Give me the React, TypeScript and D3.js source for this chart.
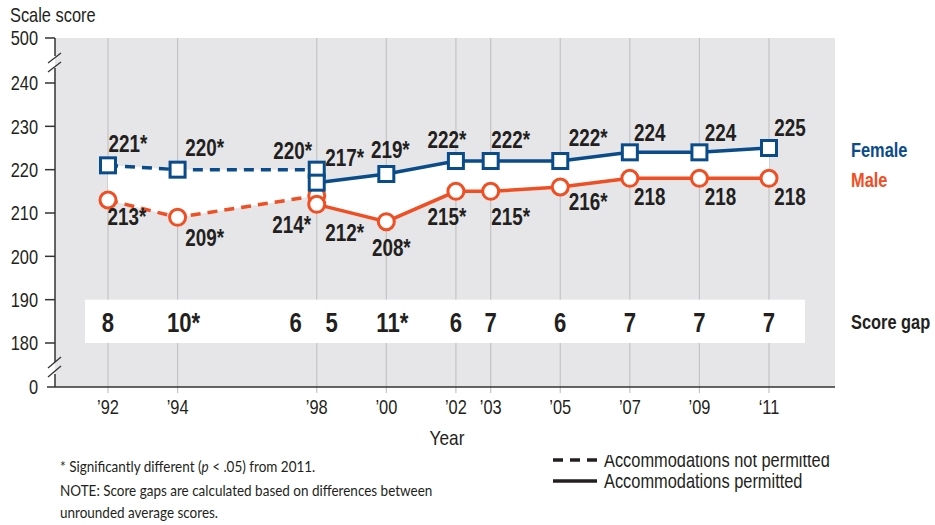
import React from "react";
import * as d3 from "d3";

const years = [1992, 1994, 1998, 2000, 2002, 2003, 2005, 2007, 2009, 2011];
const yearLabels = ["’92", "’94", "’98", "’00", "’02", "’03", "’05", "’07", "’09", "‘11"];

// Accommodations not permitted
const dashedYears = [1992, 1994, 1998];
const femaleDashed = [221, 220, 220];
const maleDashed = [213, 209, 214];
const femaleDashedLabels = ["221*", "220*", "220*"];
const maleDashedLabels = ["213*", "209*", "214*"];

// Accommodations permitted
const solidYears = [1998, 2000, 2002, 2003, 2005, 2007, 2009, 2011];
const femaleSolid = [217, 219, 222, 222, 222, 224, 224, 225];
const maleSolid = [212, 208, 215, 215, 216, 218, 218, 218];
const femaleSolidLabels = ["217*", "219*", "222*", "222*", "222*", "224", "224", "225"];
const maleSolidLabels = ["212*", "208*", "215*", "215*", "216*", "218", "218", "218"];

// Score gaps
const gapYears = [1992, 1994, 1998, 1998, 2000, 2002, 2003, 2005, 2007, 2009, 2011];
const gapLabels = ["8", "10*", "6", "5", "11*", "6", "7", "6", "7", "7", "7"];

const yTicks = [0, 180, 190, 200, 210, 220, 230, 240, 500];

// label offsets (layout only)
const fDashDx = [20, 27, -24];
const fDashDy = [-13, -14, -11];
const mDashDx = [19, 27, -25];
const mDashDy = [25, 29, 37];
const fSolidDx = [28, 4, -9, 20, 28, 20, 21, 21];
const fSolidDy = [-17, -16, -13, -13, -15, -11, -11, -12];
const mSolidDx = [28, 5, -9, 20, 28, 20, 21, 21];
const mSolidDy = [37, 34, 34, 34, 23, 27, 27, 27];
const gapDx = [0, 6, -21, 15, 6, 0, 0, 0, 0, 0, 0];

const BLUE = "#0a4b8a";
const ORANGE = "#f04e23";
const TEXT = "#231f20";
const SANS = "'Liberation Sans', Arial, sans-serif";
const NOTEFONT = "Lato, 'Open Sans', sans-serif";

type NTProps = {
  x: number; y: number; anchor?: "start" | "middle" | "end"; size: number; weight?: number;
  fill?: string; sx?: number; family?: string; dy?: string; clip?: string; children: React.ReactNode;
};
function NText({ x, y, anchor = "start", size, weight = 400, fill = TEXT, sx = 0.82, family = SANS, dy, clip, children }: NTProps) {
  return (
    <g transform={`translate(${x},${y}) scale(${sx},1)`} clipPath={clip}>
      <text x={0} y={0} dy={dy} textAnchor={anchor} style={{ fontFamily: family, fontSize: size, fontWeight: weight, fill }}>
        {children}
      </text>
    </g>
  );
}

export default function App() {
  const x = d3.scaleLinear().domain([1992, 2011]).range([108, 769]);
  const y = d3.scaleLinear().domain([0, 180, 240, 500]).range([387, 343, 83, 38]);

  const plotL = 55, plotR = 835, plotT = y(500), plotB = y(0);

  const line = d3.line<[number, number]>().x(d => x(d[0])).y(d => y(d[1]));
  const area = d3.area<[number, number, number]>().x(d => x(d[0])).y0(d => y(d[2])).y1(d => y(d[1]));

  const fD = dashedYears.map((yr, i) => [yr, femaleDashed[i]] as [number, number]);
  const mD = dashedYears.map((yr, i) => [yr, maleDashed[i]] as [number, number]);
  const fS = solidYears.map((yr, i) => [yr, femaleSolid[i]] as [number, number]);
  const mS = solidYears.map((yr, i) => [yr, maleSolid[i]] as [number, number]);
  const aD = dashedYears.map((yr, i) => [yr, femaleDashed[i], maleDashed[i]] as [number, number, number]);
  const aS = solidYears.map((yr, i) => [yr, femaleSolid[i], maleSolid[i]] as [number, number, number]);

  const sq = 15;

  const square = (yr: number, v: number, k: string) => (
    <rect key={k} x={x(yr) - sq / 2} y={y(v) - sq / 2} width={sq} height={sq} fill="#fff" stroke={BLUE} strokeWidth={3} />
  );
  const circle = (yr: number, v: number, k: string) => (
    <circle key={k} cx={x(yr)} cy={y(v)} r={8} fill="#fff" stroke={ORANGE} strokeWidth={3} />
  );
  const lbl = (k: string, px: number, py: number, s: string) => (
    <NText key={k} x={px} y={py} anchor="middle" size={23} weight={700}>{s}</NText>
  );

  return (
    <svg width={935} height={525} style={{ position: "absolute", left: 0, top: 0 }}>
      <defs>
        <clipPath id="legclip">
          <rect x={-10} y={-12} width={400} height={30} />
        </clipPath>
      </defs>
      <rect x={0} y={0} width={935} height={525} fill="#fff" />
      {/* plot background */}
      <rect x={plotL} y={plotT} width={plotR - plotL} height={plotB - plotT} fill="#e6e6e8" />
      {/* vertical grid lines / ticks */}
      {years.map(yr => (
        <line key={"g" + yr} x1={x(yr)} x2={x(yr)} y1={plotT} y2={plotB + 6} stroke="#c4c4c6" strokeWidth={1.2} />
      ))}
      {/* score gap band */}
      <rect x={x(1992) - 23} y={y(190)} width={x(2011) + 36 - (x(1992) - 23)} height={y(180) - y(190)} fill="#fff" />
      {/* white area between lines */}
      <path d={area(aD) || ""} fill="#fff" />
      <path d={area(aS) || ""} fill="#fff" />

      {/* axes */}
      <line x1={plotL} x2={plotL} y1={plotT} y2={56} stroke="#333" strokeWidth={1.5} />
      <line x1={plotL} x2={plotL} y1={68} y2={362} stroke="#333" strokeWidth={1.5} />
      <line x1={plotL} x2={plotL} y1={374} y2={plotB} stroke="#333" strokeWidth={1.5} />
      <line x1={47} x2={plotR} y1={plotB} y2={plotB} stroke="#333" strokeWidth={1.5} />
      {/* axis breaks */}
      <line x1={48} y1={63} x2={61} y2={53} stroke="#333" strokeWidth={1.3} />
      <line x1={48} y1={72} x2={61} y2={62} stroke="#333" strokeWidth={1.3} />
      <line x1={48} y1={368} x2={61} y2={357} stroke="#333" strokeWidth={1.3} />
      <line x1={48} y1={377} x2={61} y2={366} stroke="#333" strokeWidth={1.3} />
      {yTicks.map(t => (
        <g key={"yt" + t}>
          {t !== 0 && <line x1={45} x2={plotL} y1={y(t)} y2={y(t)} stroke="#333" strokeWidth={1.5} />}
          <NText x={38} y={y(t)} dy="0.36em" anchor="end" size={20}>{t}</NText>
        </g>
      ))}
      {years.map((yr, i) => (
        <NText key={"xl" + yr} x={x(yr)} y={414} anchor="middle" size={20}>{yearLabels[i]}</NText>
      ))}
      <NText x={10} y={22} size={20}>Scale score</NText>
      <NText x={447} y={445} anchor="middle" size={21}>Year</NText>

      {/* lines */}
      <path d={line(fD) || ""} fill="none" stroke={BLUE} strokeWidth={3.5} strokeDasharray="10 7" />
      <path d={line(mD) || ""} fill="none" stroke={ORANGE} strokeWidth={3.5} strokeDasharray="10 7" />
      <path d={line(fS) || ""} fill="none" stroke={BLUE} strokeWidth={3.5} />
      <path d={line(mS) || ""} fill="none" stroke={ORANGE} strokeWidth={3.5} />

      {/* markers */}
      {mD.map((d, i) => circle(d[0], d[1], "md" + i))}
      {mS.map((d, i) => circle(d[0], d[1], "ms" + i))}
      {fD.map((d, i) => square(d[0], d[1], "fd" + i))}
      {fS.map((d, i) => square(d[0], d[1], "fs" + i))}

      {/* labels */}
      {fD.map((d, i) => lbl("lfd" + i, x(d[0]) + fDashDx[i], y(d[1]) + fDashDy[i], femaleDashedLabels[i]))}
      {mD.map((d, i) => lbl("lmd" + i, x(d[0]) + mDashDx[i], y(d[1]) + mDashDy[i], maleDashedLabels[i]))}
      {fS.map((d, i) => lbl("lfs" + i, x(d[0]) + fSolidDx[i], y(d[1]) + fSolidDy[i], femaleSolidLabels[i]))}
      {mS.map((d, i) => lbl("lms" + i, x(d[0]) + mSolidDx[i], y(d[1]) + mSolidDy[i], maleSolidLabels[i]))}

      {/* score gaps */}
      {gapYears.map((yr, i) => (
        <NText key={"gap" + i} x={x(yr) + gapDx[i]} y={332} anchor="middle" size={27} weight={700}>{gapLabels[i]}</NText>
      ))}

      {/* series legend */}
      <NText x={851} y={157} size={20} weight={700} fill={BLUE}>Female</NText>
      <NText x={851} y={187} size={20} weight={700} fill={ORANGE}>Male</NText>
      <NText x={851} y={329} size={20} weight={700}>Score gap</NText>

      {/* line style legend */}
      <line x1={553} x2={597} y1={460} y2={460} stroke={TEXT} strokeWidth={3.5} strokeDasharray="10 7" />
      <line x1={553} x2={597} y1={481} y2={481} stroke={TEXT} strokeWidth={3.5} />
      <NText x={604} y={467} size={20} clip="url(#legclip)">Accommodations not permitted</NText>
      <NText x={604} y={488} size={20}>Accommodations permitted</NText>

      {/* footnotes */}
      <NText x={60} y={472} size={14.5} family={NOTEFONT} sx={0.93}>
        * Significantly different (<tspan fontStyle="italic">p</tspan> &lt; .05) from 2011.
      </NText>
      <NText x={60} y={496} size={14.5} family={NOTEFONT} sx={0.93}>
        NOTE: Score gaps are calculated based on differences between
      </NText>
      <NText x={60} y={518} size={14.5} family={NOTEFONT} sx={0.93}>
        unrounded average scores.
      </NText>
    </svg>
  );
}
